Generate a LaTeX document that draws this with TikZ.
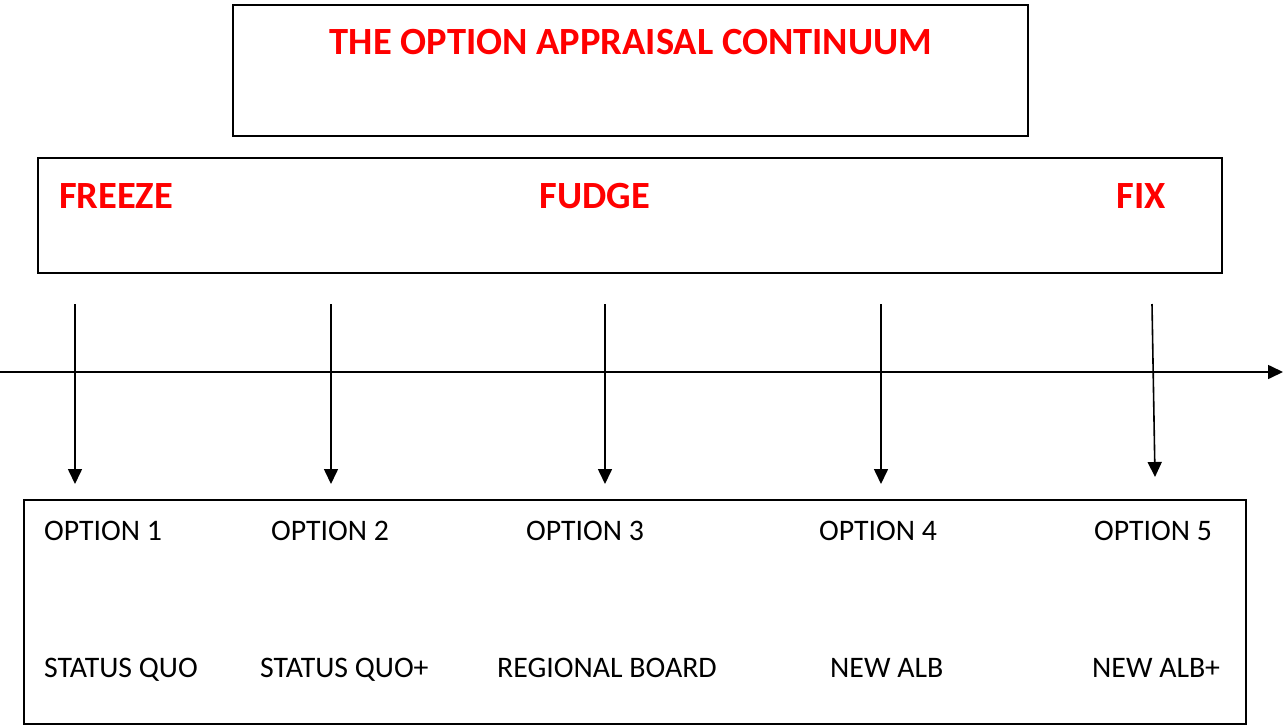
\documentclass[tikz,border=0pt]{standalone}
\usepackage{fontspec}
\setmainfont{Carlito}
\usetikzlibrary{arrows.meta}
\begin{document}
\begin{tikzpicture}[x=1pt,y=-1pt,
  box/.style={draw=black,line width=1.8pt},
  head/.style={text=red,font=\fontsize{38.5}{44}\selectfont\bfseries,inner sep=0pt},
  lab/.style={font=\fontsize{29.8}{34}\selectfont,inner sep=0pt,anchor=west,text height=19.2pt,text depth=0pt},
  arr/.style={line width=1.6pt,-{Triangle[length=15pt,width=14pt]}}]
\useasboundingbox (0,0) rectangle (1283,726);
\draw[box] (233,5) rectangle (1028,136);
\draw[box] (38,158) rectangle (1222,273);
\draw[box] (24,500) rectangle (1246,724);
\node[head] (title) at (631,42) {THE OPTION APPRAISAL CONTINUUM};
\node[head] (freeze) at (116,196) {FREEZE};
\node[head] (fudge) at (595,196) {FUDGE};
\node[head] (fix) at (1141,196) {FIX};
\coordinate (a0) at (0,372);
\coordinate (a1) at (1283,372);
\draw[arr] (a0) -- (a1);
\foreach \i/\xt/\xb/\yb in {1/75/75/484,2/331/331/484,3/605/605/484,4/881/881/484,5/1152/1155/477}{
  \coordinate (t\i) at (\xt,304);
  \coordinate (b\i) at (\xb,\yb);
  \draw[arr] (t\i) -- (b\i);
}
\node[lab] (o1) at (44,531) {OPTION 1};
\node[lab] (o2) at (271,531) {OPTION 2};
\node[lab] (o3) at (526,531) {OPTION 3};
\node[lab] (o4) at (819,531) {OPTION 4};
\node[lab] (o5) at (1094,531) {OPTION 5};
\node[lab] (s1) at (44,668) {STATUS QUO};
\node[lab] (s2) at (260,668) {STATUS QUO+};
\node[lab] (s3) at (497,668) {REGIONAL BOARD};
\node[lab] (s4) at (830,668) {NEW ALB};
\node[lab] (s5) at (1092,668) {NEW ALB+};
\end{tikzpicture}
\end{document}
